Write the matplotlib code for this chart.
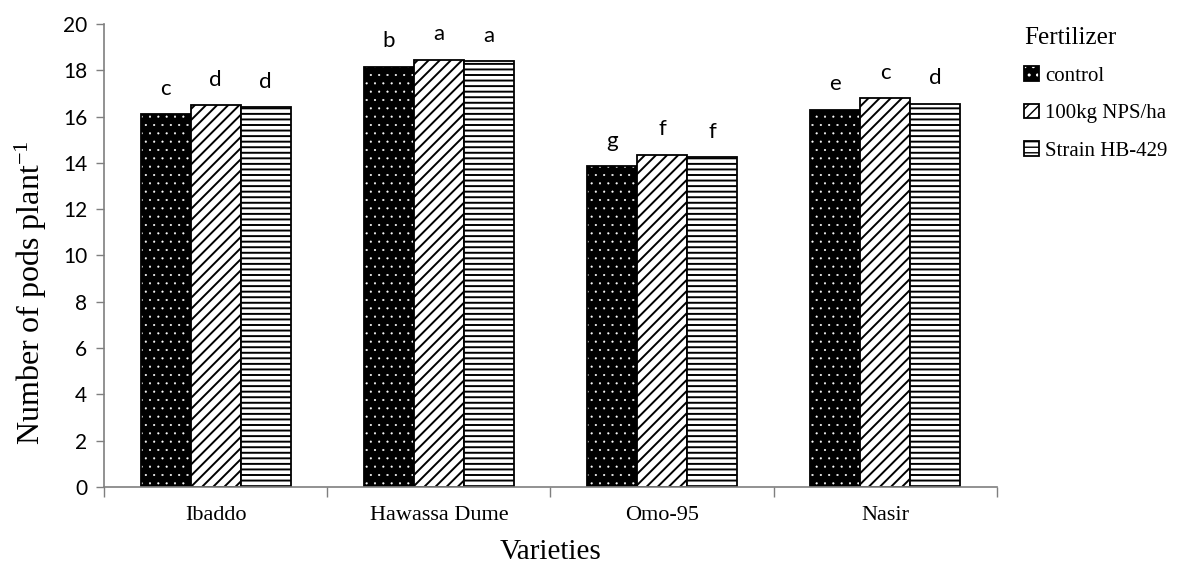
import matplotlib.pyplot as plt
import numpy as np
from matplotlib.patches import Patch
from matplotlib.legend_handler import HandlerTuple

# data
varieties = ['Ibaddo', 'Hawassa Dume', 'Omo-95', 'Nasir']
treatments = ['control', '100kg NPS/ha', 'Strain HB-429']
control = [16.1, 18.15, 13.85, 16.3]
nps = [16.5, 18.45, 14.35, 16.8]
strain = [16.4, 18.4, 14.25, 16.55]
letters_control = ['c', 'b', 'g', 'e']
letters_nps = ['d', 'a', 'f', 'c']
letters_strain = ['d', 'a', 'f', 'd']

plt.rcParams['mathtext.default'] = 'regular'

serif = 'Liberation Serif'
sans = 'Lato'
spine_col = '#7f7f7f'


def set_hlw(patches, lw):
    for p in patches:
        if hasattr(p, 'set_hatch_linewidth'):
            p.set_hatch_linewidth(lw)


fig = plt.figure(figsize=(11.99, 5.74), dpi=100)
ax = fig.add_axes([0.0867, 0.1516, 0.7448, 0.8066])

x = np.arange(1, len(varieties) + 1)
w = 0.224

# control: black with small white dots, outlined separately
with plt.rc_context({'hatch.linewidth': 0.3}):
    b1 = ax.bar(x - w, control, w, color='black', edgecolor='white', hatch='..', linewidth=0)
set_hlw(b1, 0.3)
ax.bar(x - w, control, w, fill=False, edgecolor='black', linewidth=1.3)
with plt.rc_context({'hatch.linewidth': 1.4}):
    b2 = ax.bar(x, nps, w, color='white', edgecolor='black', hatch='///', linewidth=1.3)
    b3 = ax.bar(x + w, strain, w, color='white', edgecolor='black', hatch='---', linewidth=1.3)
set_hlw(b2, 1.4)
set_hlw(b3, 1.4)

# significance letters
for vals, labs, off in [(control, letters_control, -w), (nps, letters_nps, 0), (strain, letters_strain, w)]:
    for xi, v, lab in zip(x, vals, labs):
        ax.annotate(lab, (xi + off, v), xytext=(0, 14), textcoords='offset points',
                    ha='center', va='baseline', fontsize=16, family=sans)

ax.set_xlim(0.5, 4.5)
ax.set_ylim(0, 20)
ax.set_yticks(np.arange(0, 21, 2))
ax.set_xticks(x)
ax.set_xticklabels(varieties, family=serif, fontsize=16)
ax.set_xticks(np.arange(0.5, 4.6, 1), minor=True)
ax.tick_params(axis='x', which='major', length=0, pad=14)
ax.tick_params(axis='x', which='minor', length=7, direction='out', color=spine_col, width=1)
ax.tick_params(axis='y', length=6, direction='out', color=spine_col, width=1, labelsize=15, pad=6)
for lab in ax.get_yticklabels():
    lab.set_family(sans)

for s in ['top', 'right']:
    ax.spines[s].set_visible(False)
for s in ['left', 'bottom']:
    ax.spines[s].set_color(spine_col)
    ax.spines[s].set_linewidth(1.2)

ax.set_xlabel('Varieties', family=serif, fontsize=21, labelpad=10)
ax.set_ylabel('Number of pods plant$^{-1}$', family=serif, fontsize=23)
ax.yaxis.set_label_coords(-0.062, 0.42)

# legend handles
with plt.rc_context({'hatch.linewidth': 0.3}):
    hc = Patch(facecolor='black', edgecolor='white', hatch='..', linewidth=0)
h_control = (hc, Patch(fill=False, edgecolor='black', linewidth=1.3))
with plt.rc_context({'hatch.linewidth': 1.4}):
    h_nps = Patch(facecolor='white', edgecolor='black', hatch='///', linewidth=1.3)
    h_strain = Patch(facecolor='white', edgecolor='black', hatch='---', linewidth=1.3)
set_hlw([hc], 0.3)
set_hlw([h_nps, h_strain], 1.4)
leg = fig.legend([h_control, h_nps, h_strain], treatments,
                 handler_map={tuple: HandlerTuple(ndivide=1, pad=0)},
                 loc='upper left', bbox_to_anchor=(0.8475, 0.968), frameon=False,
                 title='Fertilizer', alignment='left',
                 prop={'family': serif, 'size': 15},
                 title_fontproperties={'family': serif, 'size': 18},
                 handlelength=0.7, handleheight=0.7, handletextpad=0.3,
                 labelspacing=0.85, borderaxespad=0)

fig.savefig('out.png', dpi=100)
